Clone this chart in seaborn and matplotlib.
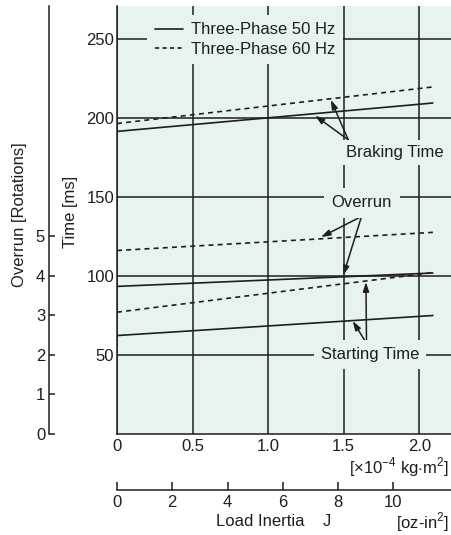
import pandas as pd
import seaborn as sns
import matplotlib.pyplot as plt
from matplotlib.lines import Line2D

# load inertia at both ends of every curve [x10^-4 kg·m^2]
inertia = [0.0, 2.09]

# braking and starting time [ms]
braking_50hz = [191.5, 209.5]
braking_60hz = [196.5, 219.7]
starting_50hz = [62.1, 74.8]
starting_60hz = [76.9, 102.0]

# overrun [rotations]
overrun_50hz = [3.73, 4.07]
overrun_60hz = [4.64, 5.10]

time_ticks = [50, 100, 150, 200, 250]
inertia_ticks = [0, 0.5, 1.0, 1.5, 2.0]
inertia_labels = ['0', '0.5', '1.0', '1.5', '2.0']
oz_ticks = [0, 2, 4, 6, 8, 10]
overrun_ticks = [0, 1, 2, 3, 4, 5]

MS_PER_ROT = 25.0      # 4 rotations sit on the 100 ms line
OZ_PER_UNIT = 5.467    # 1e-4 kg·m^2 expressed in oz-in^2

F50 = 'Three-Phase 50 Hz'
F60 = 'Three-Phase 60 Hz'

# long table for seaborn
rows = []
curves = [('braking', braking_50hz, F50, 1.0), ('braking', braking_60hz, F60, 1.0),
          ('starting', starting_50hz, F50, 1.0), ('starting', starting_60hz, F60, 1.0),
          ('overrun', overrun_50hz, F50, MS_PER_ROT), ('overrun', overrun_60hz, F60, MS_PER_ROT)]
for name, vals, freq, k in curves:
    for j, v in zip(inertia, vals):
        rows.append({'J': j, 'ms': v * k, 'curve': name + freq, 'freq': freq})
df = pd.DataFrame(rows)

sns.set_theme(style='white')
plt.rcParams['font.family'] = ['Liberation Sans', 'DejaVu Sans']
plt.rcParams['mathtext.fontset'] = 'custom'
plt.rcParams['mathtext.rm'] = 'Liberation Sans'
plt.rcParams['font.size'] = 12

INK = '#1e1e1e'
MINT = '#e6f3ef'
FS = 12

fig = plt.figure(figsize=(4.51, 5.35), dpi=100)
ax = fig.add_axes([117 / 451, 1 - 433.5 / 535, 334 / 451, 427.5 / 535])
ax.set_facecolor(MINT)

sns.lineplot(data=df, x='J', y='ms', units='curve', estimator=None, style='freq',
             dashes={F50: '', F60: (3, 2.5)}, color=INK, lw=1.2, legend=False, ax=ax)

ax.set_xlim(0, 2.21)
ax.set_ylim(0, 271)
ax.set_xticks(inertia_ticks)
ax.set_xticklabels(inertia_labels)
ax.set_yticks(time_ticks)
ax.set_xlabel('')
ax.set_ylabel('')
ax.grid(True, color=INK, lw=1.1)
ax.set_axisbelow(True)
ax.tick_params(axis='both', length=0, labelsize=FS, colors=INK)
ax.tick_params(axis='x', pad=4)
ax.tick_params(axis='y', pad=2)
for s in ['top', 'right']:
    ax.spines[s].set_visible(False)
for s in ['left', 'bottom']:
    ax.spines[s].set_color(INK)
    ax.spines[s].set_linewidth(1.1)

# overrun scale on the far left
rot = ax.secondary_yaxis(-67.7 / 334, functions=(lambda y: y / MS_PER_ROT, lambda r: r * MS_PER_ROT))
rot.set_yticks(overrun_ticks)
rot.tick_params(direction='in', length=4.1, width=1.1, pad=3, labelsize=FS, colors=INK)
rot.spines['left'].set_color(INK)
rot.spines['left'].set_linewidth(1.1)

# oz-in^2 scale below
oz = ax.secondary_xaxis(-56.5 / 427.5, functions=(lambda j: j * OZ_PER_UNIT, lambda o: o / OZ_PER_UNIT))
oz.set_xticks(oz_ticks)
oz.tick_params(direction='in', length=6, width=1.1, pad=3.5, labelsize=FS, colors=INK)
oz.spines['bottom'].set_color(INK)
oz.spines['bottom'].set_linewidth(1.1)

# axis titles
fig.text(20 / 451, 1 - 215 / 535, 'Overrun [Rotations]', rotation=90, ha='center', va='center', fontsize=FS, color=INK)
fig.text(70 / 451, 1 - 212 / 535, 'Time [ms]', rotation=90, ha='center', va='center', fontsize=FS, color=INK)
fig.text(449 / 451, 1 - 467 / 535, r'[$\times$10$^{-4}$ kg$\cdot$m$^{2}$]', ha='right', va='center', fontsize=FS, color=INK)
fig.text(274 / 451, 1 - 522 / 535, 'Load Inertia    J', ha='center', va='center', fontsize=FS, color=INK)
fig.text(449 / 451, 1 - 522 / 535, r'[oz-in$^{2}$]', ha='right', va='center', fontsize=FS, color=INK)

# legend
handles = [Line2D([], [], color=INK, lw=1.2), Line2D([], [], color=INK, lw=1.2, dashes=(2.5, 2))]
leg = ax.legend(handles, [F50, F60], loc='upper left', bbox_to_anchor=(30 / 334, 418.5 / 427.5),
                borderaxespad=0, borderpad=0.45, handlelength=1.7, handletextpad=0.5,
                labelspacing=0.25, fontsize=FS, frameon=True, fancybox=False,
                facecolor=MINT, edgecolor='none', framealpha=1)
for t in leg.get_texts():
    t.set_color(INK)

# callouts
arrow = dict(arrowstyle='-|>,head_length=0.55,head_width=0.18', color=INK, lw=1.1,
             shrinkA=0, shrinkB=0, mutation_scale=10)
box = dict(boxstyle='square,pad=0.3', facecolor=MINT, edgecolor='none')

for tip in [(1.31, 201.5), (1.415, 211.5)]:
    ax.annotate('', xy=tip, xytext=(1.53, 186.2), arrowprops=arrow)
ax.text(1.835, 178.3, 'Braking Time', ha='center', va='center', fontsize=FS, color=INK, bbox=box, zorder=4)

for tip in [(1.35, 124.5), (1.497, 100.3)]:
    ax.annotate('', xy=tip, xytext=(1.618, 137.6), arrowprops=arrow)
ax.text(1.62, 146.4, 'Overrun', ha='center', va='center', fontsize=FS, color=INK,
        bbox=dict(boxstyle='square,pad=0.45', facecolor=MINT, edgecolor='none'), zorder=4)

for tip in [(1.647, 96.0), (1.56, 71.3)]:
    ax.annotate('', xy=tip, xytext=(1.651, 57.2), arrowprops=arrow)
ax.text(1.673, 50, 'Starting Time', ha='center', va='center', fontsize=FS, color=INK,
        bbox=dict(boxstyle='square,pad=0.4', facecolor=MINT, edgecolor='none'), zorder=4)

fig.savefig('out.png', dpi=100)
